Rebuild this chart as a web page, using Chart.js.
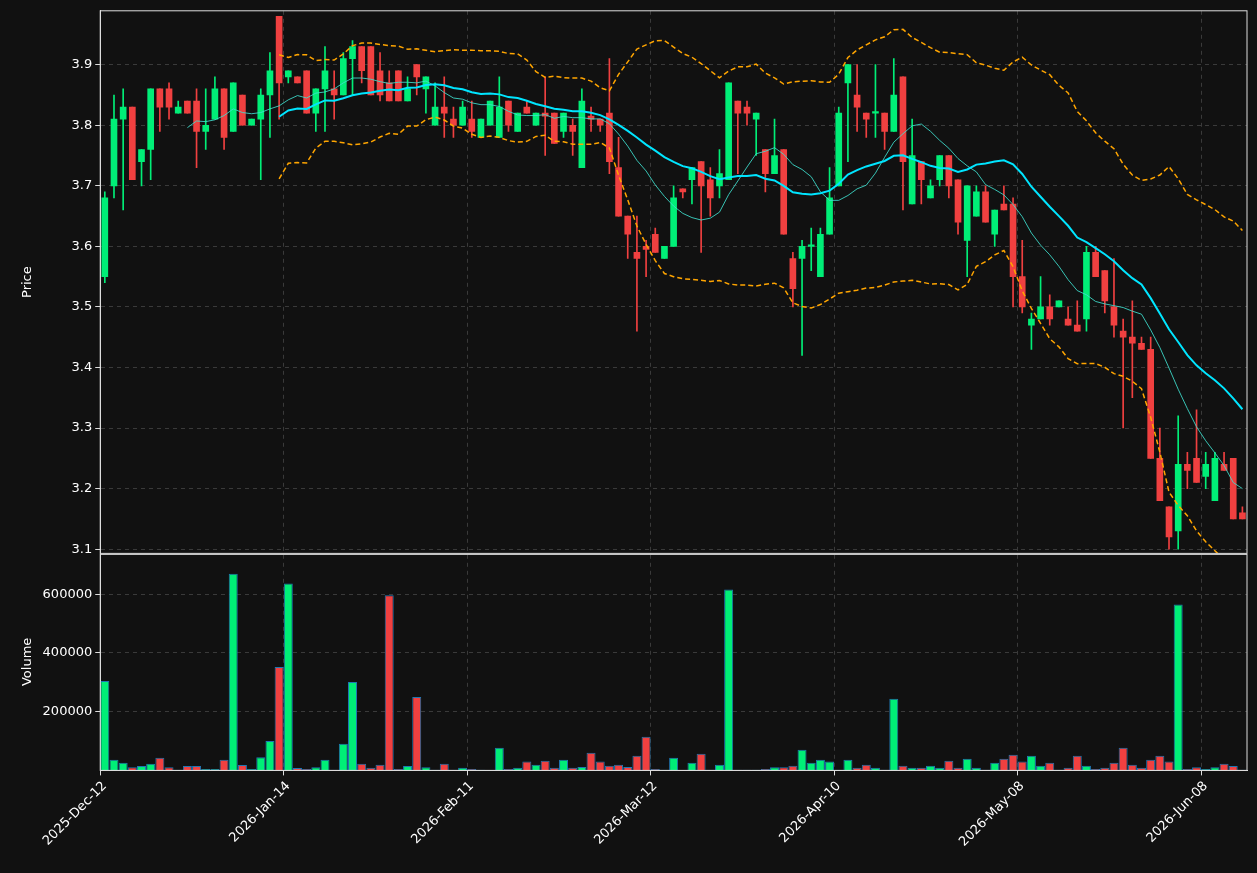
<!DOCTYPE html>
<html>
<head>
<meta charset="utf-8">
<script src="https://cdn.jsdelivr.net/npm/chart.js@4.4.0/dist/chart.umd.min.js"></script>
<style>
  html, body { margin: 0; padding: 0; background: #111111; }
  #wrap { width: 1257px; height: 873px; }
</style>
</head>
<body>
<div id="wrap"><canvas id="chart-canvas"></canvas></div>
<script>
// daily candles
var opens  = [3.55,3.70,3.81,3.83,3.74,3.76,3.86,3.86,3.82,3.84,3.84,3.79,3.81,3.86,3.79,3.85,3.80,3.81,3.85,3.98,
              3.88,3.88,3.89,3.82,3.86,3.86,3.85,3.91,3.93,3.93,3.89,3.87,3.89,3.84,3.90,3.86,3.80,3.83,3.81,3.80,
              3.81,3.78,3.80,3.78,3.84,3.79,3.83,3.80,3.82,3.82,3.79,3.80,3.73,3.815,3.81,3.82,3.73,3.65,3.59,3.60,
              3.62,3.58,3.60,3.695,3.71,3.74,3.71,3.70,3.71,3.84,3.83,3.81,3.76,3.72,3.76,3.58,3.58,3.60,3.55,3.62,
              3.70,3.87,3.85,3.82,3.82,3.82,3.79,3.88,3.67,3.74,3.68,3.71,3.75,3.71,3.61,3.65,3.69,3.62,3.67,3.67,
              3.55,3.47,3.48,3.50,3.50,3.48,3.47,3.48,3.59,3.56,3.50,3.46,3.45,3.44,3.43,3.25,3.17,3.13,3.24,3.25,
              3.22,3.18,3.24,3.25,3.16];
var closes = [3.68,3.81,3.83,3.71,3.76,3.86,3.83,3.83,3.83,3.82,3.79,3.80,3.86,3.78,3.87,3.80,3.81,3.85,3.89,3.87,
              3.89,3.87,3.82,3.86,3.89,3.85,3.91,3.93,3.89,3.85,3.85,3.84,3.84,3.86,3.88,3.88,3.83,3.82,3.80,3.83,
              3.79,3.81,3.84,3.83,3.80,3.82,3.82,3.82,3.815,3.77,3.82,3.79,3.84,3.81,3.80,3.74,3.65,3.62,3.58,3.595,
              3.59,3.60,3.68,3.69,3.73,3.70,3.68,3.72,3.87,3.82,3.82,3.82,3.72,3.75,3.62,3.53,3.60,3.60,3.62,3.68,
              3.82,3.90,3.83,3.81,3.82,3.79,3.85,3.74,3.75,3.71,3.70,3.75,3.70,3.64,3.70,3.69,3.64,3.66,3.66,3.55,
              3.50,3.48,3.50,3.48,3.51,3.47,3.46,3.59,3.55,3.51,3.47,3.45,3.44,3.43,3.25,3.18,3.12,3.24,3.23,3.21,
              3.24,3.25,3.23,3.15,3.15];
var highs  = [3.69,3.85,3.86,3.83,3.76,3.86,3.86,3.87,3.84,3.84,3.86,3.86,3.88,3.86,3.87,3.85,3.81,3.86,3.92,3.98,
              3.89,3.88,3.89,3.86,3.93,3.89,3.92,3.94,3.93,3.93,3.92,3.89,3.89,3.88,3.90,3.88,3.87,3.88,3.83,3.84,
              3.84,3.81,3.84,3.88,3.84,3.82,3.84,3.82,3.88,3.82,3.82,3.81,3.86,3.83,3.81,3.91,3.78,3.65,3.65,3.61,
              3.63,3.60,3.70,3.695,3.73,3.74,3.73,3.76,3.87,3.84,3.84,3.82,3.76,3.81,3.76,3.59,3.61,3.63,3.63,3.73,
              3.83,3.90,3.90,3.82,3.90,3.82,3.91,3.88,3.81,3.74,3.71,3.75,3.75,3.71,3.70,3.70,3.70,3.66,3.70,3.68,
              3.61,3.49,3.55,3.52,3.51,3.50,3.51,3.60,3.60,3.56,3.58,3.48,3.51,3.45,3.45,3.30,3.17,3.32,3.26,3.33,
              3.26,3.26,3.26,3.25,3.17];
var lows   = [3.54,3.68,3.66,3.71,3.70,3.71,3.79,3.81,3.82,3.82,3.73,3.76,3.81,3.76,3.79,3.80,3.80,3.71,3.78,3.81,
              3.87,3.87,3.82,3.79,3.79,3.81,3.85,3.85,3.87,3.85,3.84,3.84,3.84,3.84,3.85,3.82,3.80,3.78,3.78,3.80,
              3.78,3.78,3.80,3.78,3.79,3.79,3.82,3.80,3.75,3.77,3.78,3.75,3.73,3.79,3.79,3.72,3.65,3.58,3.46,3.55,
              3.59,3.58,3.60,3.68,3.67,3.59,3.65,3.68,3.71,3.72,3.80,3.75,3.69,3.72,3.62,3.50,3.42,3.56,3.55,3.62,
              3.70,3.74,3.79,3.78,3.78,3.76,3.79,3.66,3.67,3.67,3.68,3.70,3.68,3.62,3.55,3.65,3.64,3.60,3.66,3.50,
              3.49,3.43,3.48,3.47,3.50,3.47,3.46,3.46,3.55,3.49,3.45,3.30,3.35,3.43,3.25,3.18,3.10,3.10,3.20,3.21,
              3.20,3.18,3.23,3.15,3.15];
var volumes = [304000,36000,26000,11000,15000,23000,43000,11000,2000,15000,15000,5000,5000,36000,670000,18000,5000,45000,100000,352000,
               636000,8000,5000,11000,36000,2000,91000,301000,23000,9000,19000,596000,5000,15000,250000,11000,2000,23000,2000,9000,
               5000,2000,1000,77000,5000,9000,30000,19000,33000,9000,36000,9000,12000,60000,30000,16000,19000,12000,50000,115000,
               5000,2000,43000,500,26000,57000,2000,19000,616000,2000,2000,2000,5000,11000,11000,16000,70000,26000,36000,30000,
               2000,36000,9000,19000,9000,2000,244000,16000,9000,9000,16000,9000,33000,9000,40000,9000,2000,26000,40000,53000,
               30000,50000,16000,26000,2000,9000,50000,16000,5000,9000,26000,77000,19000,9000,36000,50000,30000,565000,5000,11000,
               5000,11000,23000,15000,2000];
var firstDay = '2025-12-12';
var holidays = ['2025-12-25','2025-12-26','2026-01-01','2026-02-16','2026-04-03','2026-05-25'];
var priceTicks = [3.1,3.2,3.3,3.4,3.5,3.6,3.7,3.8,3.9];
var volumeTicks = [200000,400000,600000];

var MON = ['Jan','Feb','Mar','Apr','May','Jun','Jul','Aug','Sep','Oct','Nov','Dec'];
var labels = [];
var d = new Date(firstDay + 'T00:00:00Z');
while (labels.length < closes.length) {
    var iso = d.toISOString().slice(0, 10);
    var wd = d.getUTCDay();
    if (wd != 0 && wd != 6 && holidays.indexOf(iso) < 0) {
        labels.push(d.getUTCFullYear() + '-' + MON[d.getUTCMonth()] + '-' + String(d.getUTCDate()).padStart(2, '0'));
    }
    d.setUTCDate(d.getUTCDate() + 1);
}

var GREEN = '#00ee77';
var RED = '#f04040';

// moving averages and bollinger bands from the closes
function sma(n) {
    return closes.map(function (c, i) {
        if (i < n - 1) return null;
        var s = 0;
        for (var k = i - n + 1; k <= i; k++) s += closes[k];
        return s / n;
    });
}
var ma10 = sma(10);
var ma20 = sma(20);
var bbUp = [], bbLo = [];
closes.forEach(function (c, i) {
    if (i < 19) { bbUp.push(null); bbLo.push(null); return; }
    var v = 0;
    for (var k = i - 19; k <= i; k++) v += Math.pow(closes[k] - ma20[i], 2);
    var sd = Math.sqrt(v / 20);
    bbUp.push(ma20[i] + 2 * sd);
    bbLo.push(ma20[i] - 2 * sd);
});

var up = closes.map(function (c, i) { return c >= opens[i]; });
var candleColors = up.map(function (u) { return u ? GREEN : RED; });

var frame = {
    id: 'frame',
    afterDraw: function (chart) {
        var c = chart.ctx, a = chart.chartArea, yp = chart.scales.y, yv = chart.scales.yv;
        c.save();
        c.strokeStyle = '#dddddd';
        c.lineWidth = 1;
        c.strokeRect(a.left, yp.top, a.right - a.left, yp.bottom - yp.top);
        c.strokeRect(a.left, yv.top + 1, a.right - a.left, yv.bottom - yv.top - 1);
        c.restore();
    }
};

var FONT = { family: 'DejaVu Sans', size: 13 };

var chart = new Chart(document.getElementById('chart-canvas').getContext('2d'), {
    data: {
        labels: labels,
        datasets: [
            { type: 'line', label: 'MA20', data: ma20, borderColor: '#00e5ff', borderWidth: 2, pointRadius: 0, yAxisID: 'y', order: 0 },
            { type: 'line', label: 'MA10', data: ma10, borderColor: 'rgba(64,224,208,0.85)', borderWidth: 1, pointRadius: 0, yAxisID: 'y', order: 0 },
            { type: 'line', label: 'BB up', data: bbUp, borderColor: '#ffa500', borderWidth: 1.5, borderDash: [5, 3], pointRadius: 0, yAxisID: 'y', order: 0 },
            { type: 'line', label: 'BB low', data: bbLo, borderColor: '#ffa500', borderWidth: 1.5, borderDash: [5, 3], pointRadius: 0, yAxisID: 'y', order: 0 },
            { type: 'bar', label: 'body', data: opens.map(function (o, i) { return [o, closes[i]]; }),
              backgroundColor: candleColors, barThickness: 6, minBarLength: 1.5, grouped: false, yAxisID: 'y', order: 2 },
            { type: 'bar', label: 'wick', data: lows.map(function (l, i) { return [l, highs[i]]; }),
              backgroundColor: candleColors, barThickness: 1, grouped: false, yAxisID: 'y', order: 3 },
            { type: 'bar', label: 'volume', data: volumes, backgroundColor: candleColors, borderColor: '#1f77b4', borderWidth: 1,
              barPercentage: 1, categoryPercentage: 0.98, grouped: false, yAxisID: 'yv', order: 1 }
        ]
    },
    options: {
        responsive: true,
        maintainAspectRatio: false,
        animation: false,
        layout: { padding: { left: 16, right: 10, top: 10, bottom: 20 } },
        plugins: { legend: { display: false }, tooltip: { enabled: false } },
        scales: {
            x: {
                type: 'category',
                offset: true,
                grid: {
                    color: function (c) { return c.index % 20 === 0 ? '#3a3a3a' : 'transparent'; },
                    tickColor: function (c) { return c.index % 20 === 0 ? '#dddddd' : 'transparent'; },
                    tickLength: 5
                },
                border: { color: '#dddddd', dash: [4, 4] },
                ticks: {
                    autoSkip: false, maxRotation: 45, minRotation: 45, color: '#ffffff', font: FONT,
                    callback: function (v, i) { return i % 20 === 0 ? labels[i] : ''; }
                }
            },
            yv: {
                stack: 'panes', stackWeight: 1, position: 'left',
                min: 0, max: 739000,
                afterBuildTicks: function (s) { s.ticks = volumeTicks.map(function (v) { return { value: v }; }); },
                grid: { color: '#3a3a3a', tickColor: '#dddddd', tickLength: 5 },
                border: { color: '#dddddd', dash: [4, 4] },
                ticks: { color: '#ffffff', font: FONT, callback: function (v) { return String(v); } },
                title: { display: true, text: 'Volume', color: '#ffffff', font: FONT }
            },
            y: {
                stack: 'panes', stackWeight: 2.5, position: 'left',
                min: 3.093, max: 3.989,
                afterBuildTicks: function (s) { s.ticks = priceTicks.map(function (v) { return { value: v }; }); },
                grid: { color: '#3a3a3a', tickColor: '#dddddd', tickLength: 5 },
                border: { color: '#dddddd', dash: [4, 4] },
                ticks: { color: '#ffffff', font: FONT, callback: function (v) { return v.toFixed(1); } },
                title: { display: true, text: 'Price', color: '#ffffff', font: FONT }
            }
        }
    },
    plugins: [frame]
});
</script>
</body>
</html>
